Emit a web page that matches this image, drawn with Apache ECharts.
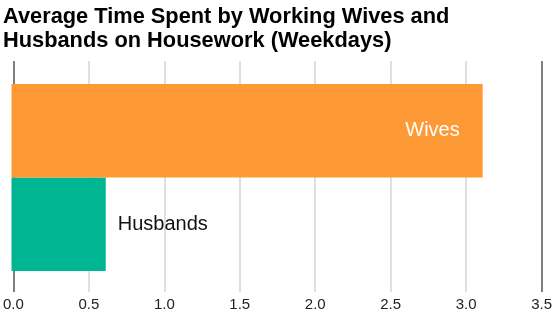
<!DOCTYPE html>
<html><head><meta charset="utf-8">
<script src="https://cdn.jsdelivr.net/npm/echarts@6/dist/echarts.min.js"></script>
<style>html,body{margin:0;padding:0;background:#fff}#c{width:555px;height:312px}</style>
</head><body><div id="c"></div>
<script>
const titleText = 'Average Time Spent by Working Wives and\nHusbands on Housework (Weekdays)';
const categories = ['Husbands', 'Wives'];
const values = [0.62, 3.1];
const colors = ['#00b592', '#fe9a35'];
const xTicks = [0, 0.5, 1.0, 1.5, 2.0, 2.5, 3.0, 3.5];

const chart = echarts.init(document.getElementById('c'), null, {renderer: 'canvas'});
const font = 'Helvetica, "Liberation Sans", Arial, sans-serif';
chart.setOption({
  animation: false,
  title: {
    text: titleText, left: 3, top: 5, padding: 0,
    textStyle: {fontFamily: font, fontSize: 21.8, fontWeight: 'bold', color: '#000', lineHeight: 24}
  },
  grid: [
    {left: 11.5, right: 11.5, top: 61, bottom: 19, containLabel: false},
    {left: 11.5, right: 11.5, top: 84, bottom: 41, containLabel: false}
  ],
  xAxis: [
    {gridIndex: 0, type: 'value', min: xTicks[0], max: xTicks[xTicks.length - 1], interval: 0.5,
     axisLine: {show: false}, axisTick: {show: false},
     axisLabel: {margin: 5, color: '#222', fontSize: 15, fontFamily: font,
       formatter: v => v.toFixed(1), showMinLabel: true, showMaxLabel: true},
     splitLine: {show: true, showMinLine: true, showMaxLine: true,
       lineStyle: {color: ['#555', '#d4d4d4', '#d4d4d4', '#d4d4d4', '#d4d4d4', '#d4d4d4', '#d4d4d4', '#555'], width: 1.5}}},
    {gridIndex: 1, type: 'value', min: xTicks[0], max: xTicks[xTicks.length - 1], interval: 0.5, show: false}
  ],
  yAxis: [
    {gridIndex: 0, type: 'category', data: categories, show: false},
    {gridIndex: 1, type: 'category', data: categories, show: false, boundaryGap: true}
  ],
  series: [{
    type: 'bar', xAxisIndex: 1, yAxisIndex: 1,
    barWidth: '100%', barCategoryGap: 0,
    data: values.map((v, i) => ({
      value: v,
      itemStyle: {color: colors[i]},
      label: i === 1
        ? {show: true, position: 'insideRight', distance: 23, formatter: categories[i], color: '#fff', fontSize: 20, fontFamily: font}
        : {show: true, position: 'right', distance: 12, formatter: categories[i], color: '#111', fontSize: 20, fontFamily: font}
    }))
  }]
});
</script></body></html>
